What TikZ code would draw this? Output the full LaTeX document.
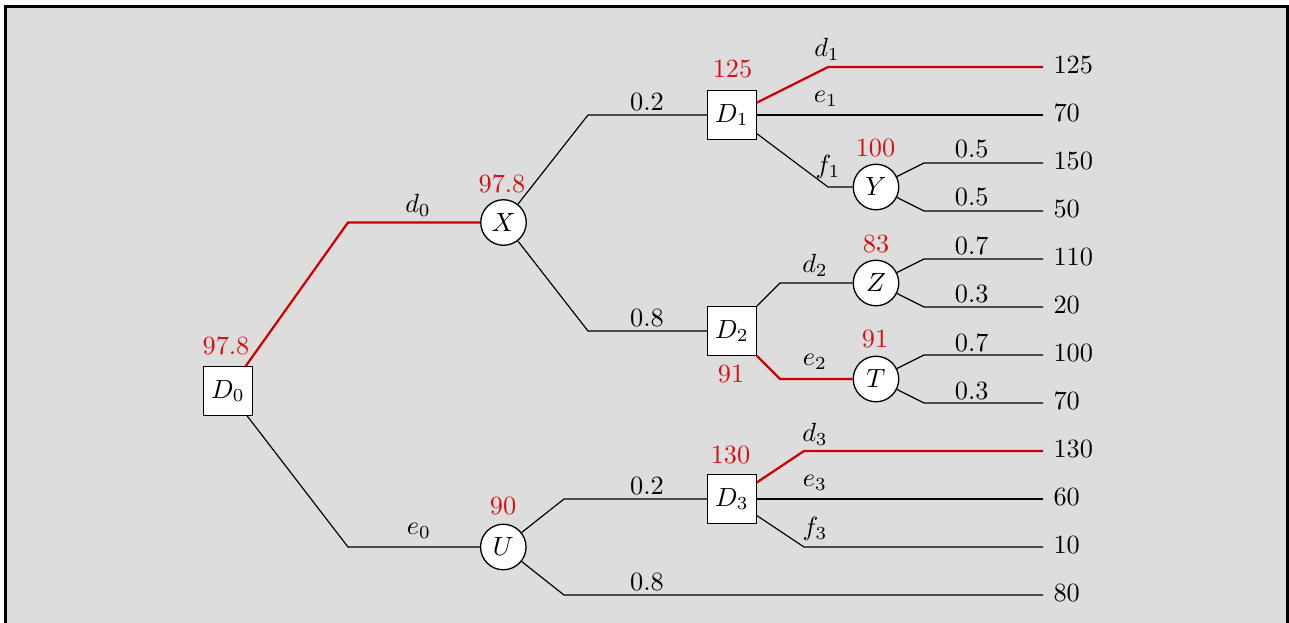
\documentclass[tikz,border=0pt]{standalone}
\usepackage{xcolor}
\definecolor{bg}{RGB}{221,221,221}
\definecolor{best}{RGB}{204,0,0}
\definecolor{valred}{RGB}{212,16,16}
\begin{document}
\begin{tikzpicture}[x=0.38pt,y=-0.38pt,
  dec/.style={draw,fill=white,minimum size=18.4pt,inner sep=0pt,line width=0.5pt},
  chance/.style={draw,circle,fill=white,minimum size=17.3pt,inner sep=0pt,line width=0.5pt},
  val/.style={text=valred,inner sep=0pt},
  lbl/.style={inner sep=0pt},
  pay/.style={anchor=west,inner xsep=3.8pt,inner ysep=0pt,yshift=0.8pt},
  br/.style={line width=0.45pt},
  opt/.style={best,line width=0.85pt}]
\useasboundingbox (0,0) rectangle (1289,623);
\begin{scope}
\clip (0,0) rectangle (1289,623);
\draw[fill=bg,line width=1.14pt] (5.5,6.5) rectangle (1287.5,700);
\end{scope}

% nodes
\node[dec] (D0) at (228,391) {$D_0$};
\node[chance] (X) at (503.5,222.5) {$X$};
\node[chance] (U) at (503.3,547) {$U$};
\node[dec] (D1) at (732,115) {$D_1$};
\node[dec] (D2) at (732,331) {$D_2$};
\node[dec] (D3) at (732,499) {$D_3$};
\node[chance] (Y) at (876,187) {$Y$};
\node[chance] (Z) at (876,283) {$Z$};
\node[chance] (T) at (876,379) {$T$};

% bend points
\coordinate (a0) at (348,222.5);
\coordinate (b0) at (348,547);
\coordinate (a1) at (588,115);
\coordinate (b1) at (588,331);
\coordinate (a2) at (564,499);
\coordinate (b2) at (564,595);
\coordinate (c1) at (828,67);
\coordinate (c2) at (828,187);
\coordinate (c3) at (780,283);
\coordinate (c4) at (780,379);
\coordinate (c5) at (804,451);
\coordinate (c6) at (804,547);
\coordinate (y1) at (924,163);
\coordinate (y2) at (924,211);
\coordinate (z1) at (924,259);
\coordinate (z2) at (924,307);
\coordinate (t1) at (924,355);
\coordinate (t2) at (924,403);

% end points
\coordinate (e1) at (1043,67);
\coordinate (e2) at (1043,115);
\coordinate (e3) at (1043,163);
\coordinate (e4) at (1043,211);
\coordinate (e5) at (1043,259);
\coordinate (e6) at (1043,307);
\coordinate (e7) at (1043,355);
\coordinate (e8) at (1043,403);
\coordinate (e9) at (1043,451);
\coordinate (e10) at (1043,499);
\coordinate (e11) at (1043,547);
\coordinate (e12) at (1043,595);

% branches
\draw[opt] (D0) -- (a0) -- (X);
\draw[br] (D0) -- (b0) -- (U);
\draw[br] (X) -- (a1) -- (D1);
\draw[br] (X) -- (b1) -- (D2);
\draw[br] (U) -- (a2) -- (D3);
\draw[br] (U) -- (b2) -- (e12);
\draw[opt] (D1) -- (c1) -- (e1);
\draw[br] (D1) -- (e2);
\draw[br] (D1) -- (c2) -- (Y);
\draw[br] (Y) -- (y1) -- (e3);
\draw[br] (Y) -- (y2) -- (e4);
\draw[br] (D2) -- (c3) -- (Z);
\draw[opt] (D2) -- (c4) -- (T);
\draw[br] (Z) -- (z1) -- (e5);
\draw[br] (Z) -- (z2) -- (e6);
\draw[br] (T) -- (t1) -- (e7);
\draw[br] (T) -- (t2) -- (e8);
\draw[opt] (D3) -- (c5) -- (e9);
\draw[br] (D3) -- (e10);
\draw[br] (D3) -- (c6) -- (e11);

% payoffs
\node[pay] (p1) at (e1) {125};
\node[pay] (p2) at (e2) {70};
\node[pay] (p3) at (e3) {150};
\node[pay] (p4) at (e4) {50};
\node[pay] (p5) at (e5) {110};
\node[pay] (p6) at (e6) {20};
\node[pay] (p7) at (e7) {100};
\node[pay] (p8) at (e8) {70};
\node[pay] (p9) at (e9) {130};
\node[pay] (p10) at (e10) {60};
\node[pay] (p11) at (e11) {10};
\node[pay] (p12) at (e12) {80};

% values
\node[val] (v0) at (226,345.5) {97.8};
\node[val] (vX) at (502,184) {97.8};
\node[val] (vU) at (503,506) {90};
\node[val] (v1) at (732.5,69) {125};
\node[val] (v2) at (731,374) {91};
\node[val] (v3) at (730.5,455) {130};
\node[val] (vY) at (875.5,148) {100};
\node[val] (vZ) at (876,244) {83};
\node[val] (vT) at (875,339.5) {91};

% branch labels
\node[lbl] (ld0) at (418,205) {$d_0$};
\node[lbl] (le0) at (419,531) {$e_0$};
\node[lbl] (q1) at (647,102) {0.2};
\node[lbl] (q2) at (647,318) {0.8};
\node[lbl] (q3) at (647,486) {0.2};
\node[lbl] (q4) at (647,582) {0.8};
\node[lbl] (ld1) at (827,49) {$d_1$};
\node[lbl] (le1) at (826,99) {$e_1$};
\node[lbl] (lf1) at (828,167) {$f_1$};
\node[lbl] (ld2) at (815,265) {$d_2$};
\node[lbl] (le2) at (815,362) {$e_2$};
\node[lbl] (ld3) at (815,434) {$d_3$};
\node[lbl] (le3) at (815,483) {$e_3$};
\node[lbl] (lf3) at (815,529) {$f_3$};
\node[lbl] (q5) at (971.7,149) {0.5};
\node[lbl] (q6) at (971.7,197.5) {0.5};
\node[lbl] (q7) at (971.7,246) {0.7};
\node[lbl] (q8) at (971.7,294) {0.3};
\node[lbl] (q9) at (971.7,342.5) {0.7};
\node[lbl] (q10) at (971.7,391) {0.3};
\end{tikzpicture}
\end{document}
